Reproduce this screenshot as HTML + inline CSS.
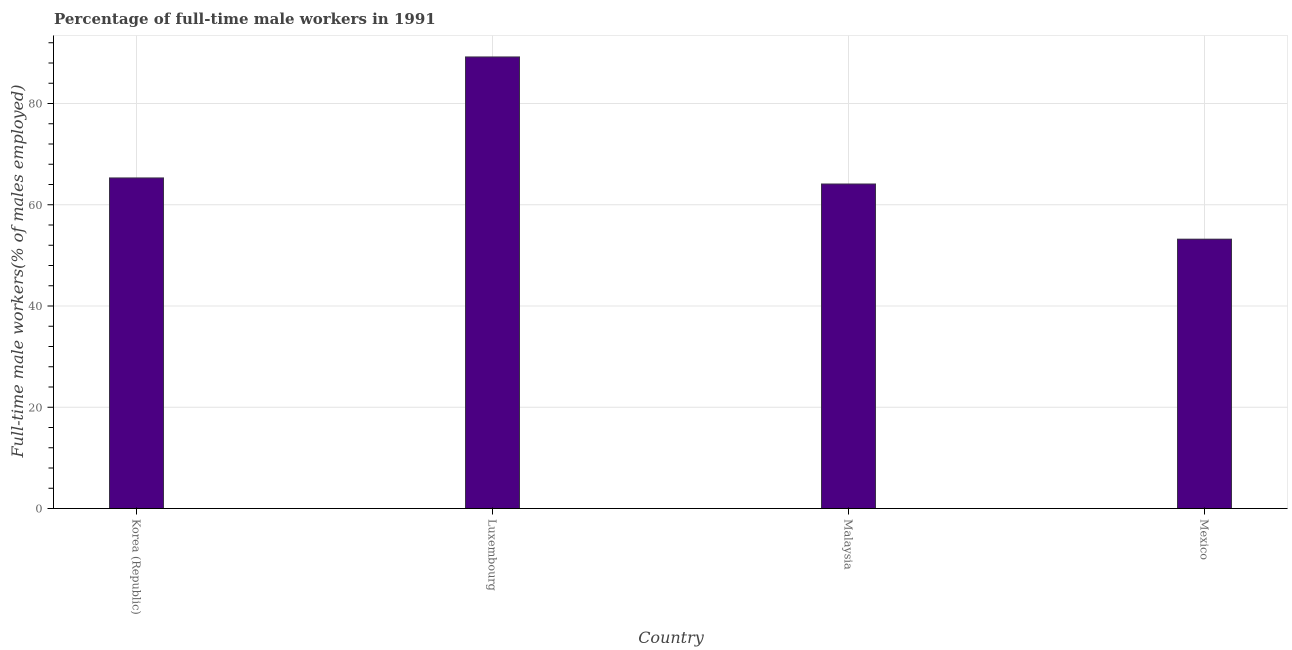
<!DOCTYPE html>
<html>
<head>
<meta charset="utf-8">
<style>
html,body{margin:0;padding:0;background:#fff;}
svg{display:block;}
</style>
</head>
<body>
<svg id="chart" width="1292" height="650" viewBox="0 0 1292 650" xmlns="http://www.w3.org/2000/svg">
<text x="54" y="24" font-family="'DejaVu Serif',serif" font-weight="bold" font-size="15" fill="#444">Percentage of full-time male workers in 1991</text>
<text transform="translate(23,271) rotate(-90)" text-anchor="middle" font-family="'DejaVu Serif',serif" font-style="italic" font-size="16" fill="#444">Full-time male workers(% of males employed)</text>
<text x="671" y="643" text-anchor="middle" font-family="'DejaVu Serif',serif" font-style="italic" font-size="16" fill="#444">Country</text>
<g id="grid"></g>
<g id="bars"></g>
<g id="axes"></g>
</svg>
<script>
var categories = ["Korea (Republic)", "Luxembourg", "Malaysia", "Mexico"];
var values = [65.3, 89.2, 64.1, 53.2];
var yTickLabels = [0, 20, 40, 60, 80];
var yMinorTicks = [4, 8, 12, 16, 24, 28, 32, 36, 44, 48, 52, 56, 64, 68, 72, 76, 84, 88, 92];

var NS = 'http://www.w3.org/2000/svg';
var plot = {left: 53.5, right: 1287.5, top: 35.5, bottom: 508.5};
function yScale(v) { return plot.bottom - v * 5.0625; }
function xScale(i) { return 136.5 + i * 356; }
var barWidth = 54;

function make(tag, attrs, parent) {
  var el = document.createElementNS(NS, tag);
  for (var k in attrs) { el.setAttribute(k, attrs[k]); }
  parent.appendChild(el);
  return el;
}
var grid = document.getElementById('grid');
var bars = document.getElementById('bars');
var axes = document.getElementById('axes');

// frame
var frame = make('rect', {x: plot.left, y: plot.top, width: plot.right - plot.left, height: plot.bottom - plot.top, fill: 'none', stroke: '#ebebeb', 'stroke-width': 1}, grid);



// gridlines
yTickLabels.forEach(function (v) {
  if (v === 0) return;
  var line = make('line', {x1: plot.left, x2: plot.right, y1: yScale(v), y2: yScale(v), stroke: '#e4e4e4', 'stroke-width': 1}, grid);
  
  
});
categories.forEach(function (c, i) {
  var line = make('line', {x1: xScale(i), x2: xScale(i), y1: plot.top, y2: plot.bottom, stroke: '#e4e4e4', 'stroke-width': 1}, grid);
  
  
});

// bars
values.forEach(function (v, i) {
  var bar = make('rect', {x: xScale(i) - barWidth / 2, y: yScale(v), width: barWidth, height: yScale(0) - yScale(v), fill: '#4b0082', stroke: '#3a3048', 'stroke-width': 1}, bars);
  
  
});

// y axis
var yAxis = make('line', {x1: plot.left, x2: plot.left, y1: plot.top, y2: plot.bottom + 0.5, stroke: '#000', 'stroke-width': 1}, axes);


var xAxis = make('line', {x1: plot.left, x2: plot.right, y1: plot.bottom, y2: plot.bottom, stroke: '#000', 'stroke-width': 1}, axes);



yMinorTicks.forEach(function (v) {
  var t = make('line', {x1: plot.left - 5, x2: plot.left, y1: yScale(v), y2: yScale(v), stroke: '#000', 'stroke-width': 1}, axes);
  
  
});
yTickLabels.forEach(function (v) {
  var t = make('line', {x1: plot.left - 6, x2: plot.left, y1: yScale(v), y2: yScale(v), stroke: '#000', 'stroke-width': 1}, axes);
  
  
  var lab = make('text', {x: 42.5, y: yScale(v) + 4.2, 'text-anchor': 'end', 'font-family': "'DejaVu Serif',serif", 'font-size': 11.2, fill: '#666'}, axes);
  lab.textContent = String(v);
  
  
});
categories.forEach(function (c, i) {
  var t = make('line', {x1: xScale(i), x2: xScale(i), y1: plot.bottom - 1, y2: plot.bottom + 6, stroke: '#000', 'stroke-width': 1}, axes);
  
  
  var lab = make('text', {transform: 'translate(' + (xScale(i) - 4) + ',519) rotate(90)', 'font-family': "'DejaVu Serif',serif", 'font-size': 11.2, fill: '#666'}, axes);
  lab.textContent = c;
  
  
});
</script>
</body>
</html>
